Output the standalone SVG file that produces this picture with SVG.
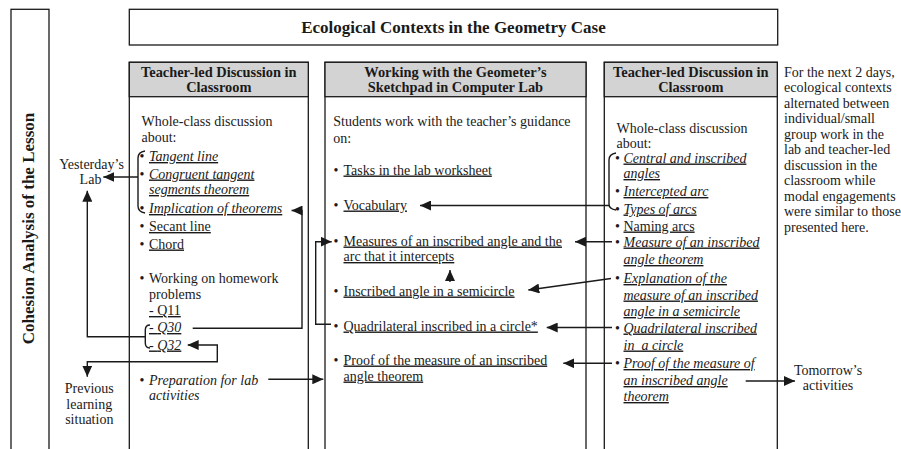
<svg xmlns="http://www.w3.org/2000/svg" width="901" height="449" viewBox="0 0 901 449">
<defs>
<style>
.box{fill:none;stroke:#1a1a1a;stroke-width:1.3}
.hdr{fill:#d3d3d3;stroke:#1a1a1a;stroke-width:1.3}
text{font-family:"Liberation Serif","Times New Roman",serif;font-size:14px;fill:#1a1a1a}
.b{font-weight:bold}
.hd{font-weight:bold;font-size:14.4px;text-anchor:middle}
.i{font-style:italic}
.u{text-decoration:underline}
.m{text-anchor:middle}
.c{fill:none;stroke:#1a1a1a;stroke-width:1.4}
</style>
<marker id="ah" markerWidth="11" markerHeight="10" refX="11" refY="5" orient="auto-start-reverse" markerUnits="userSpaceOnUse"><path d="M0,0 L11,5 L0,10 z" fill="#1a1a1a"/></marker>
</defs>
<rect width="901" height="449" fill="#fff"/>

<g id="side">
<rect class="box" x="11" y="9.3" width="38" height="460"/>
<text class="b" style="font-size:17px" text-anchor="middle" transform="translate(33.5 228.5) rotate(-90)">Cohesion Analysis of the Lesson</text>
</g>

<g id="title">
<rect class="box" x="129.3" y="9.3" width="648.4" height="35.7"/>
<text class="b m" style="font-size:17px" x="453.5" y="32.5">Ecological Contexts in the Geometry Case</text>
</g>

<g id="col1">
<rect class="box" x="129.3" y="62.3" width="179" height="400"/>
<rect class="hdr" x="129.3" y="62.3" width="179" height="34.4"/>
<text class="hd" x="218.8" y="76.5">Teacher-led Discussion in</text>
<text class="hd" x="218.8" y="91.5">Classroom</text>
<text x="141.5" y="126">Whole-class discussion</text>
<text x="141.5" y="142">about:</text>
<text x="139.5" y="161">•</text><text class="i u" x="149" y="161">Tangent line</text>
<text x="139.5" y="178.5">•</text><text class="i u" x="149" y="178.5">Congruent tangent</text>
<text class="i u" x="149" y="194">segments theorem</text>
<text x="139.5" y="213">•</text><text class="i u" x="149" y="213">Implication of theorems</text>
<text x="139.5" y="231">•</text><text class="u" x="149" y="231">Secant line</text>
<text x="139.5" y="248.5">•</text><text class="u" x="149" y="248.5">Chord</text>
<text x="139.5" y="283">•</text><text x="149" y="283">Working on homework</text>
<text x="149" y="299">problems</text>
<text class="u" x="149" y="315">- Q11</text>
<text class="u" x="149" y="332">- <tspan class="i">Q30</tspan></text>
<text class="u" x="149" y="349.5">- <tspan class="i">Q32</tspan></text>
<text x="139.5" y="384.5">•</text><text class="i" x="149" y="384.5">Preparation for lab</text>
<text class="i" x="149" y="400">activities</text>
</g>

<g id="col2">
<rect class="box" x="325" y="62.3" width="261" height="400"/>
<rect class="hdr" x="325" y="62.3" width="261" height="34.4"/>
<text class="hd" x="455.5" y="76.5">Working with the Geometer’s</text>
<text class="hd" x="455.5" y="91.5">Sketchpad in Computer Lab</text>
<text x="333.3" y="126">Students work with the teacher’s guidance</text>
<text x="333.3" y="143">on:</text>
<text x="333.5" y="174.5">•</text><text class="u" x="343.5" y="174.5">Tasks in the lab worksheet</text>
<text x="333.5" y="209.5">•</text><text class="u" x="343.5" y="209.5">Vocabulary</text>
<text x="333.5" y="245.5">•</text><text class="u" x="343.5" y="245.5">Measures of an inscribed angle and the</text>
<text class="u" x="343.5" y="261">arc that it intercepts</text>
<text x="333.5" y="295.5">•</text><text class="u" x="343.5" y="295.5">Inscribed angle in a semicircle</text>
<text x="333.5" y="330.5">•</text><text class="u" x="343.5" y="330.5">Quadrilateral inscribed in a circle*</text>
<text x="333.5" y="364.5">•</text><text class="u" x="343.5" y="364.5">Proof of the measure of an inscribed</text>
<text class="u" x="343.5" y="380.5">angle theorem</text>
</g>

<g id="col3">
<rect class="box" x="604.3" y="62.3" width="173" height="400"/>
<rect class="hdr" x="604.3" y="62.3" width="173" height="34.4"/>
<text class="hd" x="690.8" y="76.5">Teacher-led Discussion in</text>
<text class="hd" x="690.8" y="91.5">Classroom</text>
<text x="616.5" y="133">Whole-class discussion</text>
<text x="616.5" y="147.5">about:</text>
<text x="615" y="162.5">•</text><text class="i u" x="623.5" y="162.5">Central and inscribed</text>
<text class="i u" x="623.5" y="178">angles</text>
<text x="615" y="196">•</text><text class="i u" x="623.5" y="196">Intercepted arc</text>
<text x="615" y="213.5">•</text><text class="i u" x="623.5" y="213.5">Types of arcs</text>
<text x="615" y="230.5">•</text><text class="u" x="623.5" y="230.5">Naming arcs</text>
<text x="615" y="246.5">•</text><text class="i u" x="623.5" y="246.5">Measure of an inscribed</text>
<text class="i u" x="623.5" y="264">angle theorem</text>
<text x="615" y="283">•</text><text class="i u" x="623.5" y="283">Explanation of the</text>
<text class="i u" x="623.5" y="299.5">measure of an inscribed</text>
<text class="i u" x="623.5" y="316">angle in a semicircle</text>
<text x="615" y="332.5">•</text><text class="i u" x="623.5" y="332.5">Quadrilateral inscribed</text>
<text class="i u" x="623.5" y="349.5" xml:space="preserve">in  a circle</text>
<text x="615" y="368">•</text><text class="i u" x="623.5" y="368">Proof of the measure of</text>
<text class="i u" x="623.5" y="385">an inscribed angle</text>
<text class="i u" x="623.5" y="401">theorem</text>
</g>

<g id="note">
<text x="784" y="76.5">For the next 2 days,</text>
<text x="784" y="92">ecological contexts</text>
<text x="784" y="107.5">alternated between</text>
<text x="784" y="123">individual/small</text>
<text x="784" y="138.5">group work in the</text>
<text x="784" y="154">lab and teacher-led</text>
<text x="784" y="169.5">discussion in the</text>
<text x="784" y="185">classroom while</text>
<text x="784" y="200.5">modal engagements</text>
<text x="784" y="216">were similar to those</text>
<text x="784" y="231.5">presented here.</text>
</g>

<g id="yesterday"><text class="m" x="91.5" y="168.5">Yesterday’s</text><text class="m" x="90.5" y="184">Lab</text></g>
<g id="previous"><text class="m" x="89.3" y="393">Previous</text><text class="m" x="89.3" y="408.5">learning</text><text class="m" x="89.3" y="424">situation</text></g>
<g id="tomorrow"><text class="m" x="828" y="375">Tomorrow’s</text><text class="m" x="828" y="389.5">activities</text></g>

<g id="connectors">
<path class="c" d="M145 151 Q138 152 138 158 V206 Q138 212 145 213"/>
<path class="c" d="M138 177 H103.3" marker-end="url(#ah)"/>
<path class="c" d="M150 325 Q145.3 325 145.3 330 V343 Q145.3 348 150 348"/>
<path class="c" d="M145.3 336.7 H87.3 V190.7" marker-end="url(#ah)"/>
<path class="c" d="M192.7 328.3 H302 V210.5 H291.5" marker-end="url(#ah)"/>
<path class="c" d="M187.7 345 H217.3 V361.7 H87.3 V376.7" marker-start="url(#ah)" marker-end="url(#ah)"/>
<path class="c" d="M268.3 379.3 H323.3" marker-end="url(#ah)"/>
<path class="c" d="M331 324.3 H315.7 V241.7 H331.7" marker-end="url(#ah)"/>
<path class="c" d="M616 153 Q609 154 609 160 V204 Q609 209 616 210"/>
<path class="c" d="M609 205.5 H420" marker-end="url(#ah)"/>
<path class="c" d="M612 241.7 H575" marker-end="url(#ah)"/>
<path class="c" d="M611 278.5 L528.3 290" marker-end="url(#ah)"/>
<path class="c" d="M612 327.5 H546.7" marker-end="url(#ah)"/>
<path class="c" d="M612 363.3 H563.3" marker-end="url(#ah)"/>
<path class="c" d="M450 282 V270" marker-end="url(#ah)"/>
<path class="c" d="M745.7 381 H795" marker-end="url(#ah)"/>
</g>
</svg>
